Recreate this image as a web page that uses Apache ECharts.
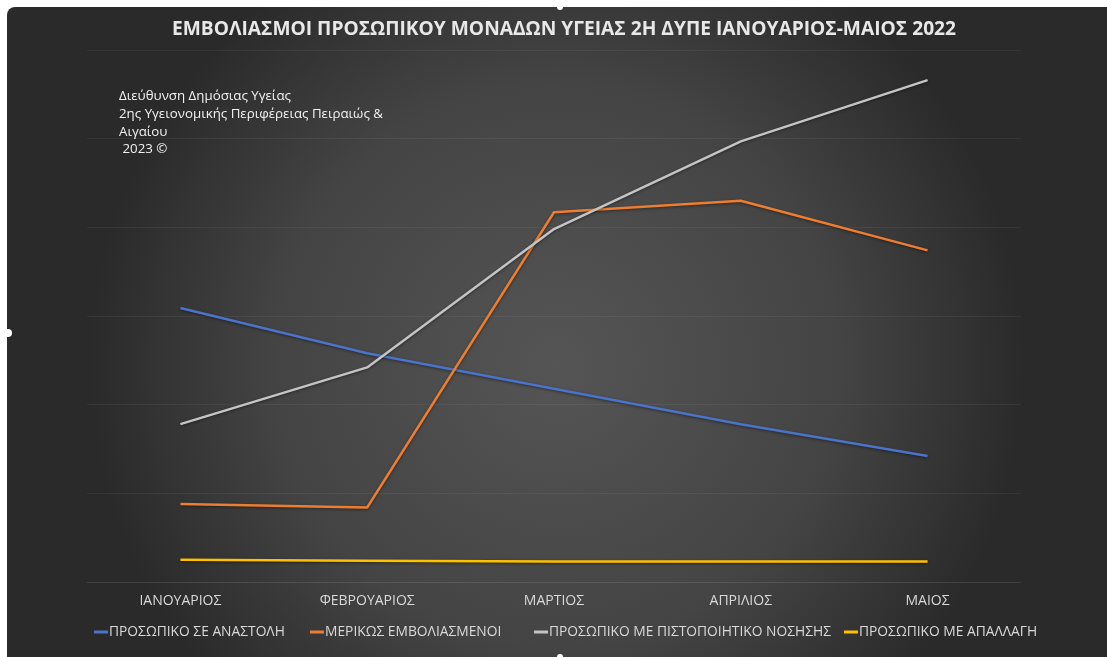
<!DOCTYPE html>
<html>
<head>
<meta charset="utf-8">
<style>
  html, body { margin: 0; padding: 0; background: #ffffff; }
  #chart { width: 1107px; height: 657px; }
</style>
<script src="https://cdn.jsdelivr.net/npm/echarts@6/dist/echarts.min.js"></script>
</head>
<body>
<div id="chart"></div>
<script>
// Months on the x axis
const months = ['ΙΑΝΟΥΑΡΙΟΣ', 'ΦΕΒΡΟΥΑΡΙΟΣ', 'ΜΑΡΤΙΟΣ', 'ΑΠΡΙΛΙΟΣ', 'ΜΑΙΟΣ'];

// Staff counts per month
const suspended     = [309, 258, 218, 178, 142];   // ΠΡΟΣΩΠΙΚΟ ΣΕ ΑΝΑΣΤΟΛΗ
const partial       = [88, 84, 417, 430, 374];     // ΜΕΡΙΚΩΣ ΕΜΒΟΛΙΑΣΜΕΝΟΙ
const recovered     = [178, 242, 398, 497, 566];   // ΠΡΟΣΩΠΙΚΟ ΜΕ ΠΙΣΤΟΠΟΙΗΤΙΚΟ ΝΟΣΗΣΗΣ
const exempt        = [25, 24, 23, 23, 23];        // ΠΡΟΣΩΠΙΚΟ ΜΕ ΑΠΑΛΛΑΓΗ

const seriesNames = [
  'ΠΡΟΣΩΠΙΚΟ ΣΕ ΑΝΑΣΤΟΛΗ',
  'ΜΕΡΙΚΩΣ ΕΜΒΟΛΙΑΣΜΕΝΟΙ',
  'ΠΡΟΣΩΠΙΚΟ ΜΕ ΠΙΣΤΟΠΟΙΗΤΙΚΟ ΝΟΣΗΣΗΣ',
  'ΠΡΟΣΩΠΙΚΟ ΜΕ ΑΠΑΛΛΑΓΗ'
];
const seriesData = [suspended, partial, recovered, exempt];
const colors = ['#4a73c9', '#ed7d31', '#c4c4c4', '#ffc000'];

// Left edge of each legend entry in the bottom row
const legendLeft = [94, 310, 534, 844];

const FONT = '"Open Sans", "Noto Sans", sans-serif';

const chart = echarts.init(document.getElementById('chart'));

chart.setOption({
  animation: false,
  textStyle: { fontFamily: FONT },
  graphic: [
    {
      type: 'rect',
      z: -10,
      shape: { x: 7, y: 7, width: 1100, height: 650, r: [8, 0, 0, 0] },
      style: {
        fill: {
          type: 'radial', x: 0.5, y: 0.55, r: 0.72,
          colorStops: [
            { offset: 0, color: '#555555' },
            { offset: 0.6, color: '#444444' },
            { offset: 1, color: '#2a2a2a' }
          ]
        }
      }
    },
    { type: 'circle', shape: { cx: 8, cy: 333, r: 4 }, style: { fill: '#ffffff' } },
    { type: 'circle', shape: { cx: 560, cy: 7, r: 3 }, style: { fill: '#ffffff' } },
    { type: 'circle', shape: { cx: 560, cy: 657, r: 3 }, style: { fill: '#ffffff' } },
    {
      type: 'text',
      left: 119,
      top: 87,
      style: {
        text: 'Διεύθυνση Δημόσιας Υγείας\n2ης Υγειονομικής Περιφέρειας Πειραιώς &\nΑιγαίου\n 2023 ©',
        fill: '#f2f2f2',
        font: '13.3px ' + FONT,
        lineHeight: 17.9
      }
    }
  ],
  title: {
    text: 'ΕΜΒΟΛΙΑΣΜΟΙ ΠΡΟΣΩΠΙΚΟΥ ΜΟΝΑΔΩΝ ΥΓΕΙΑΣ 2Η ΔΥΠΕ ΙΑΝΟΥΑΡΙΟΣ-ΜΑΙΟΣ 2022',
    left: 559,
    textAlign: 'center',
    top: 15,
    textStyle: { color: '#e8e8e8', fontSize: 19.2, fontWeight: 'bold', fontFamily: FONT }
  },
  legend: seriesNames.map((name, i) => ({
    left: legendLeft[i],
    top: 625,
    padding: 0,
    itemWidth: 14,
    itemHeight: 3,
    icon: 'rect',
    textStyle: { color: '#d9d9d9', fontSize: 13.8, fontFamily: FONT, padding: [0, 0, 0, -4] },
    data: [name]
  })),
  grid: { left: 87, right: 86, top: 50, bottom: 75 },
  xAxis: {
    type: 'category',
    data: months,
    boundaryGap: true,
    axisLine: { lineStyle: { color: 'rgba(255,255,255,0.055)' } },
    axisTick: { show: false },
    axisLabel: { color: '#d9d9d9', fontSize: 14, margin: 12, fontFamily: FONT }
  },
  yAxis: {
    type: 'value',
    min: 0,
    max: 600,
    interval: 100,
    axisLabel: { show: false },
    axisLine: { show: false },
    axisTick: { show: false },
    splitLine: { lineStyle: { color: 'rgba(255,255,255,0.055)', width: 1 } }
  },
  series: seriesNames.map((name, i) => ({
    name: name,
    type: 'line',
    data: seriesData[i],
    symbol: 'none',
    color: colors[i],
    lineStyle: {
      width: 2.5,
      color: colors[i],
      shadowColor: 'rgba(0,0,0,0.45)',
      shadowBlur: 3,
      shadowOffsetY: 1
    }
  }))
});
</script>
</body>
</html>
